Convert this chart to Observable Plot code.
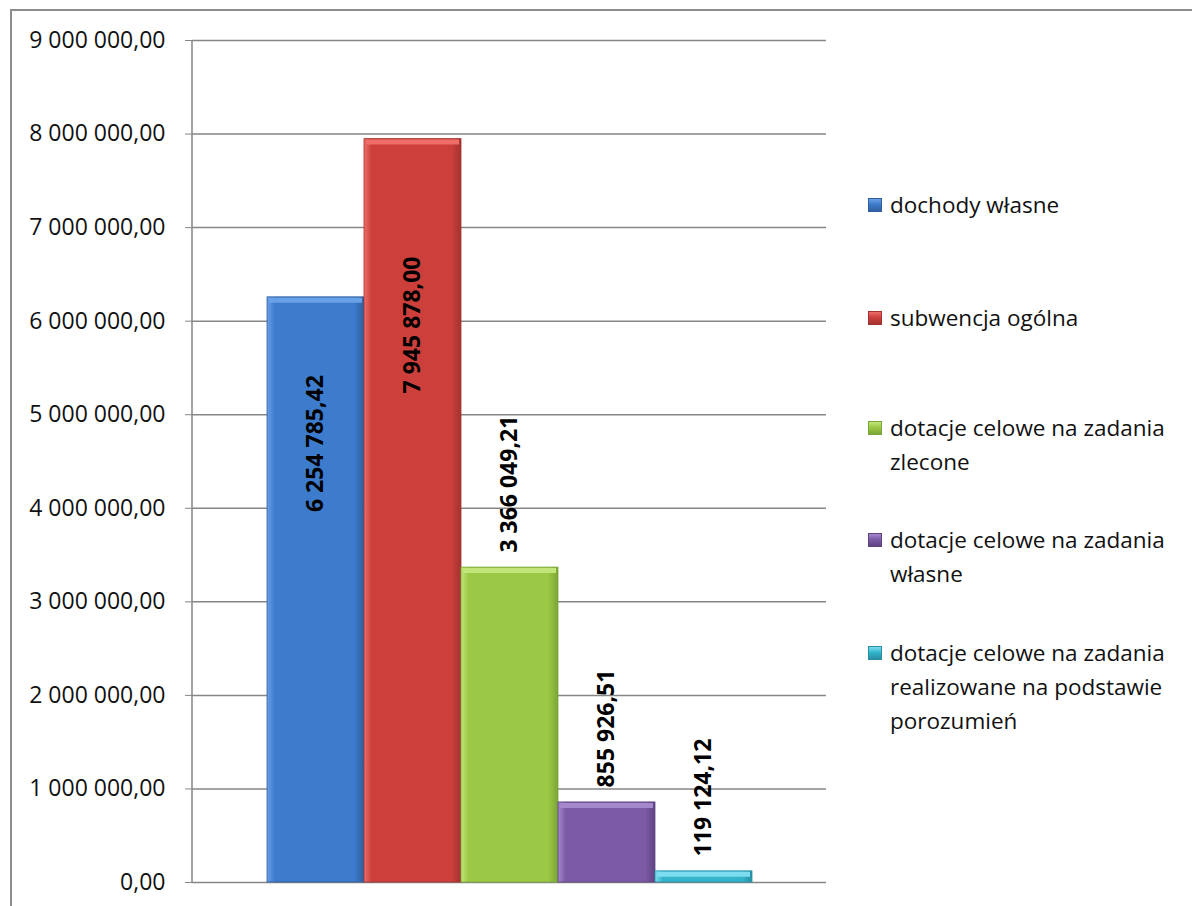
<!DOCTYPE html>
<html>
<head>
<meta charset="utf-8">
<script src="https://cdn.jsdelivr.net/npm/d3@7"></script>
<script src="https://cdn.jsdelivr.net/npm/@observablehq/plot@0.6"></script>
<style>
  html, body { margin: 0; padding: 0; background: #fff; }
  body { width: 1192px; height: 906px; overflow: hidden; position: relative; font-family: "Open Sans", sans-serif; }
  #frame { position: absolute; left: 10px; top: 9px; width: 1300px; height: 1000px; border: 2px solid #8c8c8c; box-sizing: border-box; }
  #chart { position: absolute; left: 0; top: 0; }
  #legend { position: absolute; left: 868px; top: 0; width: 324px; font-size: 22.5px; color: #111; }
  .item { position: absolute; left: 0; display: flex; align-items: flex-start; line-height: 34px; white-space: nowrap; }
  .sw { width: 14px; height: 14px; margin-top: 10px; margin-right: 8px; flex: none; box-sizing: border-box; }
</style>
</head>
<body>
<div id="frame"></div>
<div id="chart"></div>
<div id="legend"></div>
<script>
const categories = [
  "dochody własne",
  "subwencja ogólna",
  "dotacje celowe na zadania zlecone",
  "dotacje celowe na zadania własne",
  "dotacje celowe na zadania realizowane na podstawie porozumień"
];
const values = [6254785.42, 7945878.00, 3366049.21, 855926.51, 119124.12];
const colors = ["#3d7bcc", "#cc3f3b", "#9bc845", "#7d5aa6", "#34b4cc"];
const darkColors = ["#2f5f9e", "#a33230", "#7aa535", "#5f4482", "#288fa3"];
const lightColors = ["#6aa0e6", "#ee6d68", "#c2e57a", "#a487cc", "#7ddcef"];
const yTicks = [0, 1000000, 2000000, 3000000, 4000000, 5000000, 6000000, 7000000, 8000000, 9000000];
const legendLines = [
  ["dochody własne"],
  ["subwencja ogólna"],
  ["dotacje celowe na zadania", "zlecone"],
  ["dotacje celowe na zadania", "własne"],
  ["dotacje celowe na zadania", "realizowane na podstawie", "porozumień"]
];

const locale = d3.formatLocale({decimal: ",", thousands: "\u00a0", grouping: [3], currency: ["", ""]});
const fmt = locale.format(",.2f");

const data = categories.map((c, i) => ({cat: c, value: values[i], i}));
// labels inside for tall bars, outside (above) for short bars
const inside = data.filter(d => d.value > 5000000);
const outside = data.filter(d => d.value <= 5000000);

const plot = Plot.plot({
  width: 830,
  height: 900,
  marginLeft: 192,
  marginRight: 4,
  marginTop: 40,
  marginBottom: 18,
  style: {fontFamily: "'Open Sans', sans-serif", background: "transparent"},
  x: {domain: categories, paddingInner: 0, paddingOuter: 0.735, axis: null},
  y: {domain: [0, 9000000], label: null},
  marks: [
    Plot.gridY(yTicks, {stroke: "#868686", strokeOpacity: 1, strokeWidth: 1.5}),
    Plot.axisY({ticks: yTicks, tickFormat: fmt, tickSize: 7, tickPadding: 20, fontSize: 23, stroke: "#868686", color: "#111", label: null}),
    Plot.barY(data, {x: "cat", y: "value", fill: d => `url(#grad${d.i})`, stroke: d => darkColors[d.i], strokeWidth: 0.8}),
    // top bevel highlight
    Plot.tickY(data, {x: "cat", y: "value", stroke: d => lightColors[d.i], strokeWidth: 5, dy: 3, inset: 2}),
    Plot.text(inside, {
      x: "cat", y: d => d.value * 0.75, text: d => fmt(d.value), rotate: -90,
      fontSize: 23, fontWeight: "bold", fill: "#000", textAnchor: "middle"
    }),
    Plot.text(outside, {
      x: "cat", y: "value", text: d => fmt(d.value), rotate: -90,
      fontSize: 23, fontWeight: "bold", fill: "#000", textAnchor: "start", dy: -15
    })
  ]
});

const svg = d3.select(plot);
const defs = svg.insert("defs", ":first-child");
colors.forEach((c, i) => {
  const g = defs.append("linearGradient").attr("id", `grad${i}`).attr("x1", "0").attr("x2", "1").attr("y1", "0").attr("y2", "0");
  g.append("stop").attr("offset", "0%").attr("stop-color", lightColors[i]);
  g.append("stop").attr("offset", "8%").attr("stop-color", c);
  g.append("stop").attr("offset", "90%").attr("stop-color", c);
  g.append("stop").attr("offset", "100%").attr("stop-color", darkColors[i]);
});
document.getElementById("chart").appendChild(plot);

// y axis line drawn using plot scale
const ys = plot.scale("y");
svg.append("line")
  .attr("x1", 192).attr("x2", 192)
  .attr("y1", ys.apply(9000000)).attr("y2", ys.apply(0))
  .attr("stroke", "#868686").attr("stroke-width", 1.5);

// legend
const legend = document.getElementById("legend");
const tops = [188, 301, 411, 523, 636];
legendLines.forEach((lines, i) => {
  const it = document.createElement("div");
  it.className = "item";
  it.style.top = tops[i] + "px";
  const sw = document.createElement("div");
  sw.className = "sw";
  sw.style.background = `linear-gradient(180deg, ${lightColors[i]} 0%, ${colors[i]} 45%, ${darkColors[i]} 100%)`;
  sw.style.border = `1px solid ${darkColors[i]}`;
  const tx = document.createElement("div");
  tx.innerHTML = lines.join("<br>");
  it.appendChild(sw); it.appendChild(tx);
  legend.appendChild(it);
});
</script>
</body>
</html>
